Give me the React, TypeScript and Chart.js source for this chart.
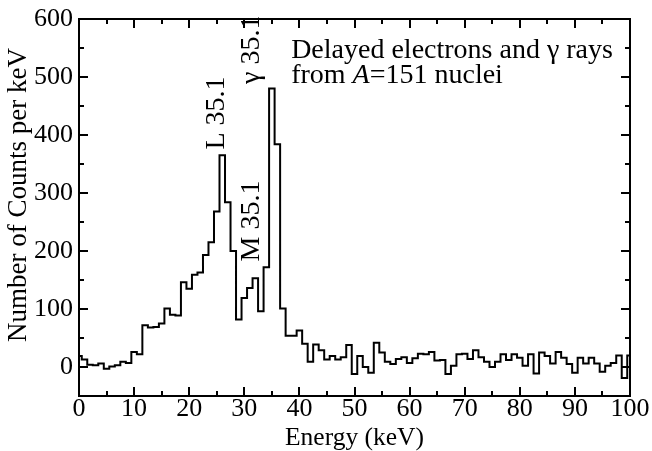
import { useEffect, useRef } from 'react';
import { Chart, registerables } from 'chart.js';

Chart.register(...registerables);

// Counts per keV in 1 keV bins, bin centre = index in keV (0 … 100)
const counts = [
  19, 13, 4, 3, 6, -3, 1, 3, 9, 7,
  26, 22, 72, 68, 69, 75, 101, 90, 89, 146,
  135, 159, 163, 193, 215, 268, 365, 284, 200, 82,
  119, 136, 153, 96, 172, 480, 384, 101, 54, 54,
  63, 40, 9, 39, 29, 13, 19, 13, 17, 38,
  -12, 19, 0, -10, 42, 25, 9, 5, 14, 17,
  7, 15, 23, 22, 26, 11, 12, -12, 2, 22,
  23, 14, 29, 17, 9, 0, 9, 22, 12, 22,
  16, 2, 22, -11, 25, 19, 6, 26, 16, 5,
  -10, 16, 6, 16, 6, -8, 2, 7, 20, -19,
  20,
];

const xTickValues = [0, 10, 20, 30, 40, 50, 60, 70, 80, 90, 100];
const xMinorValues = [5, 15, 25, 35, 45, 55, 65, 75, 85, 95];
const yTickValues = [0, 100, 200, 300, 400, 500, 600];
const yMinorValues = [50, 150, 250, 350, 450, 550];

const yTitle = 'Number of Counts per keV';
const xTitle = 'Energy (keV)';

// Line labels written vertically: text, centre energy, starting count
const lineLabels = ['L 35.1', 'M 35.1', 'γ 35.1'];
const lineLabelEnergy = [24.9, 31.3, 31.3];
const lineLabelCount = [375, 182, 488];

// Caption in the upper right
const captionLine1 = 'Delayed electrons and γ rays';
const captionLine2 = ['from ', 'A', '=151 nuclei'];
const captionEnergy = 38.5;
const captionCounts = [533, 490];

const FAMILY = "'Liberation Serif', 'Times New Roman', serif";

const frameAndText = {
  id: 'frameAndText',
  afterDraw(chart: any) {
    const { ctx, chartArea: a, scales } = chart;
    const x = scales.x;
    const y = scales.y;
    ctx.save();
    ctx.strokeStyle = '#000';
    ctx.fillStyle = '#000';

    // frame
    ctx.lineWidth = 2;
    ctx.strokeRect(a.left, a.top, a.right - a.left, a.bottom - a.top);

    // inward ticks on all four sides
    ctx.beginPath();
    const xTick = (v: number, len: number) => {
      const px = Math.round(x.getPixelForValue(v));
      ctx.moveTo(px, a.bottom);
      ctx.lineTo(px, a.bottom - len);
      ctx.moveTo(px, a.top);
      ctx.lineTo(px, a.top + len);
    };
    const yTick = (v: number, len: number) => {
      const py = Math.round(y.getPixelForValue(v));
      ctx.moveTo(a.left, py);
      ctx.lineTo(a.left + len, py);
      ctx.moveTo(a.right, py);
      ctx.lineTo(a.right - len, py);
    };
    xTickValues.forEach((v) => xTick(v, 9));
    xMinorValues.forEach((v) => xTick(v, 5));
    yTickValues.forEach((v) => yTick(v, 9));
    yMinorValues.forEach((v) => yTick(v, 5));
    ctx.stroke();

    // y-axis title, rotated
    ctx.font = `27px ${FAMILY}`;
    ctx.textAlign = 'center';
    ctx.textBaseline = 'middle';
    ctx.save();
    ctx.translate(19, 195);
    ctx.rotate(-Math.PI / 2);
    ctx.fillText(yTitle, 0, 0);
    ctx.restore();

    // vertical line labels
    ctx.font = `28px ${FAMILY}`;
    ctx.textAlign = 'left';
    lineLabels.forEach((t, i) => {
      ctx.save();
      ctx.translate(x.getPixelForValue(lineLabelEnergy[i]), y.getPixelForValue(lineLabelCount[i]));
      ctx.rotate(-Math.PI / 2);
      ctx.fillText(t, 0, 0);
      ctx.restore();
    });

    // caption
    ctx.textBaseline = 'alphabetic';
    const cx = x.getPixelForValue(captionEnergy);
    ctx.font = `28px ${FAMILY}`;
    ctx.fillText(captionLine1, cx, y.getPixelForValue(captionCounts[0]));
    let px = cx;
    const cy = y.getPixelForValue(captionCounts[1]);
    captionLine2.forEach((part, i) => {
      ctx.font = i === 1 ? `italic 28px ${FAMILY}` : `28px ${FAMILY}`;
      ctx.fillText(part, px, cy);
      px += ctx.measureText(part).width;
    });
    ctx.restore();
  },
};

export default function App() {
  const canvasRef = useRef<HTMLCanvasElement>(null);

  useEffect(() => {
    document.body.style.margin = '0';
    const canvas = canvasRef.current;
    if (!canvas) return;
    const chart = new Chart(canvas, {
      type: 'line',
      data: {
        datasets: [
          {
            data: counts.map((c, i) => ({ x: i, y: c })),
            stepped: 'middle',
            borderColor: '#000',
            borderWidth: 2,
            pointRadius: 0,
            fill: false,
          },
        ],
      },
      options: {
        responsive: false,
        animation: false,
        events: [],
        layout: { padding: { top: 18, right: 22, left: 0, bottom: 0 } },
        plugins: { legend: { display: false }, tooltip: { enabled: false } },
        scales: {
          x: {
            type: 'linear',
            min: 0,
            max: 100,
            afterBuildTicks: (s: any) => {
              s.ticks = xTickValues.map((v) => ({ value: v }));
            },
            afterFit: (s: any) => {
              s.height = 55;
            },
            grid: { display: false, drawTicks: false },
            border: { display: false },
            ticks: {
              color: '#000',
              font: { family: FAMILY, size: 26, lineHeight: 1 },
              padding: 0,
              maxRotation: 0,
              autoSkip: false,
            },
            title: {
              display: true,
              text: xTitle,
              color: '#000',
              font: { family: FAMILY, size: 25.5, lineHeight: 1 },
              padding: { top: 0, bottom: 0 },
            },
          },
          y: {
            type: 'linear',
            min: -50,
            max: 600,
            afterBuildTicks: (s: any) => {
              s.ticks = yTickValues.map((v) => ({ value: v }));
            },
            afterFit: (s: any) => {
              s.width = 79;
            },
            grid: { display: false, drawTicks: false },
            border: { display: false },
            ticks: {
              color: '#000',
              font: { family: FAMILY, size: 26, lineHeight: 1 },
              padding: 6,
              autoSkip: false,
            },
            title: { display: false },
          },
        },
      },
      plugins: [frameAndText],
    });
    return () => chart.destroy();
  }, []);

  return (
    <div style={{ position: 'fixed', left: 0, top: 0, width: 652, height: 451, background: '#fff' }}>
      <canvas ref={canvasRef} width={652} height={451} />
    </div>
  );
}
